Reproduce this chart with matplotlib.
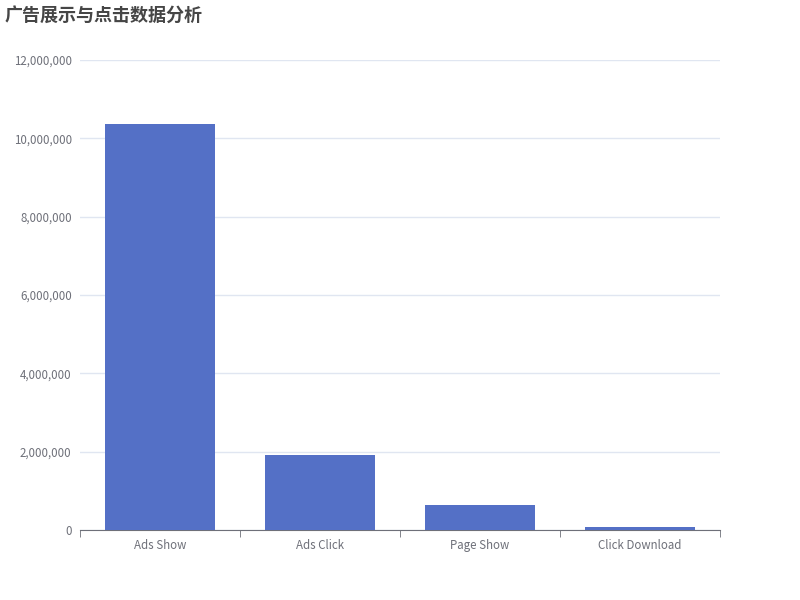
import matplotlib
matplotlib.use("Agg")
from matplotlib import pyplot as plt
from matplotlib.ticker import FuncFormatter, MultipleLocator

plt.rcParams['font.family'] = ['Noto Sans CJK SC', 'DejaVu Sans']

categories = ["Ads Show", "Ads Click", "Page Show", "Click Download"]
values = [10360000, 1910000, 640000, 70000]

fig = plt.figure(figsize=(8, 6), dpi=100)
ax = fig.add_axes([0.1, 0.1167, 0.8, 0.7833])

ax.bar(range(len(categories)), values, width=0.69, color="#5470c6", zorder=3)

ax.set_xlim(-0.5, len(categories) - 0.5)
ax.set_ylim(0, 12000000)
ax.yaxis.set_major_locator(MultipleLocator(2000000))
ax.yaxis.set_major_formatter(FuncFormatter(lambda v, p: f"{int(v):,}"))
ax.grid(axis="y", color="#E0E6F1", linewidth=1, zorder=0)

ax.set_xticks(range(len(categories)))
ax.set_xticklabels(categories)
ax.set_xticks([i - 0.5 for i in range(len(categories) + 1)], minor=True)
ax.tick_params(axis="x", which="major", length=0, pad=6.5, labelsize=8.3, labelcolor="#6E7079")
ax.tick_params(axis="x", which="minor", length=5, color="#6E7079")
ax.tick_params(axis="y", length=0, pad=6, labelsize=8.3, labelcolor="#6E7079")

for s in ["top", "right", "left"]:
    ax.spines[s].set_visible(False)
ax.spines["bottom"].set_color("#6E7079")

fig.text(0.006, 0.975, "广告展示与点击数据分析", fontsize=13, fontweight="bold",
         color="#464646", va="center", ha="left")

fig.savefig("out.png")
